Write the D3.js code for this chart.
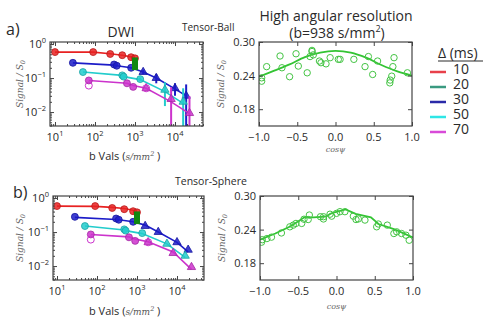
<!DOCTYPE html>
<html>
<head>
<meta charset="utf-8">
<script src="https://cdn.jsdelivr.net/npm/d3@7"></script>
<style>
  body { margin: 0; background: #fff; }
  svg { display: block; font-family: 'Open Sans', sans-serif; }
</style>
</head>
<body>
<svg id="chart" width="486" height="324"></svg>
<script>
// legend
const deltas = ['10', '20', '30', '50', '70'];

// DWI decay, one set of arrays per diffusion time
const bRed = [10, 90, 240, 480, 800, 1000];
const sigRed = [0.58, 0.58, 0.51, 0.47, 0.41, 0.38];
const fitRedA = [0.58, 0.58, 0.52, 0.47, 0.42, 0.38];
const fitRedB = [0.58, 0.57, 0.53, 0.49, 0.44, 0.40];
const errRed = [0, 0, 0, 0, 0, 0];

const bGreen = [1000, 1000, 1000];
const sigGreen = [0.33, 0.26, 0.21];

const bBlue = [28, 300, 350, 800, 1600, 3400, 10000, 19000];
const sigBlue = [0.28, 0.25, 0.23, 0.2, 0.15, 0.1, 0.05, 0.03];
const fitBlueA = [0.28, 0.24, 0.23, 0.2, 0.15, 0.1, 0.048, 0.03];
const fitBlueB = [0.27, 0.235, 0.23, 0.2, 0.16, 0.1, 0.05, 0.026];
const errBlue = [0, 0, 0, 0.01, 0.02, 0.03, 0.02, 0.035];

const bCyan = [50, 480, 520, 1350, 5600, 16000];
const sigCyan = [0.15, 0.12, 0.11, 0.093, 0.045, 0.02];
const fitCyanA = [0.15, 0.12, 0.11, 0.09, 0.04, 0.018];
const fitCyanB = [0.15, 0.115, 0.11, 0.09, 0.045, 0.018];
const errCyan = [0, 0, 0, 0.01, 0.03, 0.03];

const bMag = [70, 630, 900, 1900, 8000, 23000];
const sigMag = [0.085, 0.07, 0.055, 0.05, 0.024, 0.0093];
const fitMagA = [0.085, 0.07, 0.06, 0.05, 0.02, 0.009];
const fitMagB = [0.085, 0.072, 0.062, 0.052, 0.026, 0.008];
const errMag = [0, 0, 0, 0, 0.03, 0.02];
const ringMagB = [70, 1900];
const ringMagSig = [0.06, 0.05];

// angular data at b=938
const cosA = [-0.965, -0.965, -0.9, -0.725, -0.7, -0.6, -0.516, -0.486, -0.37, -0.333, -0.307, -0.307, -0.29,
  -0.21, -0.19, -0.124, -0.07, 0.037, 0.06, 0.24, 0.386, 0.43, 0.486, 0.55, 0.71, 0.715, 0.735, 0.75, 0.765, 0.94];
const sigAngA = [0.23, 0.236, 0.256, 0.275, 0.254, 0.238, 0.279, 0.257, 0.245, 0.274, 0.283, 0.285, 0.277,
  0.266, 0.263, 0.261, 0.272, 0.269, 0.269, 0.269, 0.256, 0.274, 0.242, 0.266, 0.227, 0.232, 0.239, 0.256, 0.272, 0.245];
const fitCosA = [-1, -0.8, -0.6, -0.4, -0.2, 0, 0.2, 0.4, 0.6, 0.8, 1];
const fitAngA = [0.238, 0.249, 0.26, 0.273, 0.281, 0.284, 0.281, 0.272, 0.259, 0.248, 0.24];

const cosB = [-0.98, -0.97, -0.91, -0.85, -0.72, -0.61, -0.565, -0.53, -0.455, -0.425, -0.37, -0.355, -0.21,
  -0.17, -0.17, -0.085, -0.063, 0.0, 0.046, 0.11, 0.22, 0.255, 0.285, 0.372, 0.525, 0.547, 0.664, 0.75, 0.787, 0.85, 0.908, 0.95];
const sigAngB = [0.2175, 0.222, 0.224, 0.2265, 0.234, 0.245, 0.248, 0.251, 0.251, 0.2585, 0.258, 0.266, 0.263,
  0.259, 0.263, 0.2675, 0.264, 0.269, 0.272, 0.272, 0.264, 0.258, 0.259, 0.257, 0.245, 0.25, 0.248, 0.233, 0.236, 0.233, 0.23, 0.221];
const fitCosB = [-1, -0.8, -0.6, -0.42, -0.3, -0.15, -0.05, 0.12, 0.25, 0.45, 0.55, 0.75, 0.9, 1];
const fitAngB = [0.222, 0.233, 0.246, 0.262, 0.262, 0.263, 0.27, 0.276, 0.268, 0.262, 0.25, 0.241, 0.232, 0.226];

const logTicks = [10, 100, 1000, 10000];
const logTickExp = ['1', '2', '3', '4'];
const yLogTicks = [1, 0.1, 0.01];
const yLogExp = ['0', '\u22121', '\u22122'];
const cosTicks = [-1, -0.5, 0, 0.5, 1];
const angYTicks = [0.18, 0.24, 0.30];

const svg = d3.select('#chart');
const frameColor = '#444';
const textColor = '#2a2a2a';

const dwiSeries = [
  { color: '#e82222', b: bRed, sig: sigRed, fitA: fitRedA, fitB: fitRedB, err: errRed },
  { color: '#1c1cc8', b: bBlue, sig: sigBlue, fitA: fitBlueA, fitB: fitBlueB, err: errBlue },
  { color: '#22cccc', b: bCyan, sig: sigCyan, fitA: fitCyanA, fitB: fitCyanB, err: errCyan },
  { color: '#cc33cc', b: bMag, sig: sigMag, fitA: fitMagA, fitB: fitMagB, err: errMag }
];

let clipId = 0;

function frame(g, box) {
  g.append('rect')
    .attr('x', box.x0).attr('y', box.y0)
    .attr('width', box.x1 - box.x0).attr('height', box.y1 - box.y0)
    .attr('fill', 'none').attr('stroke', frameColor).attr('stroke-width', 1.2);
}

function clip(g, box) {
  const id = 'clip' + (clipId++);
  g.append('clipPath').attr('id', id).append('rect')
    .attr('x', box.x0).attr('y', box.y0)
    .attr('width', box.x1 - box.x0).attr('height', box.y1 - box.y0);
  return g.append('g').attr('clip-path', `url(#${id})`);
}

// ticks on all four sides, pointing in
function insideTicks(g, box, x, y, xVals, yVals, size) {
  const sides = [
    [d3.axisBottom(x).tickValues(xVals), `translate(0,${box.y1})`],
    [d3.axisTop(x).tickValues(xVals), `translate(0,${box.y0})`],
    [d3.axisLeft(y).tickValues(yVals), `translate(${box.x0},0)`],
    [d3.axisRight(y).tickValues(yVals), `translate(${box.x1},0)`]
  ];
  sides.forEach(([axis, tr]) => {
    g.append('g').attr('transform', tr)
      .call(axis.tickSizeInner(-size).tickSizeOuter(0).tickFormat(''))
      .call(a => a.select('.domain').remove())
      .call(a => a.selectAll('line').attr('stroke', frameColor));
  });
}

function yLabel(g, cx, cy) {
  const t = g.append('text')
    .attr('transform', `translate(${cx},${cy}) rotate(-90)`)
    .attr('text-anchor', 'middle')
    .attr('font-family', 'DejaVu Serif, serif')
    .attr('font-style', 'italic')
    .attr('font-size', 9)
    .attr('fill', '#666');
  t.append('tspan').text('Signal / S');
  t.append('tspan').attr('font-size', 6.5).attr('dy', 2).text('0');
}

function logPanel(box, fitKey, showErr, labelY) {
  const g = svg.append('g');
  const x = d3.scaleLog().domain(box.xDom).range([box.x0, box.x1]);
  const y = d3.scaleLog().domain(box.yDom).range([box.y1, box.y0]);
  const inner = clip(g, box);

  const line = d3.line().x(d => x(d[0])).y(d => y(d[1]));

  // green points at b=1000
  inner.append('path')
    .datum(bGreen.map((b, i) => [b, sigGreen[i]]))
    .attr('d', line).attr('fill', 'none')
    .attr('stroke', '#118811').attr('stroke-width', 2);

  dwiSeries.forEach(s => {
    if (showErr) {
      inner.selectAll(null)
        .data(s.b.map((b, i) => [b, s.sig[i], s.err[i]]).filter(d => d[2] > 0))
        .enter().append('line')
        .attr('x1', d => x(d[0])).attr('x2', d => x(d[0]))
        .attr('y1', d => y(d[1] + d[2]))
        .attr('y2', d => d[1] - d[2] > 0 ? y(d[1] - d[2]) : box.y1 + 5)
        .attr('stroke', s.color).attr('stroke-width', 2);
    }
    inner.append('path')
      .datum(s.b.map((b, i) => [b, s[fitKey][i]]))
      .attr('d', line).attr('fill', 'none')
      .attr('stroke', s.color).attr('stroke-width', 1.6);

    inner.selectAll(null)
      .data(s.b.map((b, i) => [b, s.sig[i]]))
      .enter().append('path')
      .attr('transform', d => `translate(${x(d[0])},${y(d[1])})`)
      .attr('d', d => d3.symbol(d[0] > 1500 ? d3.symbolTriangle : d3.symbolCircle, d[0] > 1500 ? 30 : 38)())
      .attr('fill', s.color).attr('fill-opacity', 0.85)
      .attr('stroke', d3.color(s.color).darker(0.6)).attr('stroke-width', 0.8);
  });

  inner.selectAll(null)
    .data(bGreen.map((b, i) => [b, sigGreen[i]]))
    .enter().append('rect')
    .attr('x', d => x(d[0]) - 3).attr('y', d => y(d[1]) - 3)
    .attr('width', 6).attr('height', 6).attr('fill', '#118811');

  inner.selectAll(null)
    .data(ringMagB.map((b, i) => [b, ringMagSig[i]]))
    .enter().append('circle')
    .attr('cx', d => x(d[0])).attr('cy', d => y(d[1])).attr('r', 3.5)
    .attr('fill', 'none').attr('stroke', '#cc33cc').attr('stroke-width', 1);

  frame(g, box);
  // major and minor ticks
  const xMinor = [];
  for (let e = 0; e <= 4; e++) for (let m = 2; m <= 9; m++) {
    const v = m * Math.pow(10, e);
    if (v > box.xDom[0] && v < box.xDom[1]) xMinor.push(v);
  }
  const yMinor = [];
  for (let e = -3; e <= 0; e++) for (let m = 2; m <= 9; m++) {
    const v = m * Math.pow(10, e);
    if (v > box.yDom[0] && v < box.yDom[1]) yMinor.push(v);
  }
  insideTicks(g, box, x, y, logTicks, yLogTicks, 4);
  insideTicks(g, box, x, y, xMinor, yMinor, 2);

  // tick labels with superscripts
  logTicks.forEach((v, i) => {
    const t = g.append('text')
      .attr('x', x(v)).attr('y', box.y1 + 15)
      .attr('text-anchor', 'middle').attr('font-size', 11).attr('fill', textColor);
    t.append('tspan').text('10');
    t.append('tspan').attr('font-size', 7.5).attr('dy', -5).text(logTickExp[i]);
  });
  yLogTicks.forEach((v, i) => {
    const t = g.append('text')
      .attr('x', box.x0 - 4).attr('y', y(v) + 4)
      .attr('text-anchor', 'end').attr('font-size', 11).attr('fill', textColor);
    t.append('tspan').text('10');
    t.append('tspan').attr('font-size', 7.5).attr('dy', -5).text(yLogExp[i]);
  });

  yLabel(g, 23, (box.y0 + box.y1) / 2);

  const xl = g.append('text')
    .attr('x', 89).attr('y', labelY)
    .attr('font-size', 11).attr('fill', textColor);
  xl.append('tspan').text('b Vals (');
  xl.append('tspan').attr('font-family', 'DejaVu Serif, serif').attr('font-style', 'italic')
    .attr('font-size', 9).attr('fill', '#555').text('s/mm');
  xl.append('tspan').attr('font-family', 'DejaVu Serif, serif').attr('font-style', 'italic')
    .attr('font-size', 6.5).attr('fill', '#555').attr('dy', -4).text('2');
  xl.append('tspan').attr('dy', 4).text(' )');
}

function anglePanel(box, cosVals, sigVals, fitCos, fitVals, curve, labelY) {
  const g = svg.append('g');
  const x = d3.scaleLinear().domain([-1, 1]).range([box.x0, box.x1]);
  const y = d3.scaleLinear().domain([0.15, 0.30]).range([box.y1, box.y0]);
  const inner = clip(g, box);

  inner.append('path')
    .datum(fitCos.map((c, i) => [c, fitVals[i]]))
    .attr('d', d3.line().curve(curve).x(d => x(d[0])).y(d => y(d[1])))
    .attr('fill', 'none').attr('stroke', '#33c433').attr('stroke-width', 1.8);

  inner.selectAll(null)
    .data(cosVals.map((c, i) => [c, sigVals[i]]))
    .enter().append('circle')
    .attr('cx', d => x(d[0])).attr('cy', d => y(d[1])).attr('r', 3.2)
    .attr('fill', 'none').attr('stroke', '#44c444').attr('stroke-width', 1);

  frame(g, box);
  insideTicks(g, box, x, y, cosTicks, angYTicks, 4);

  cosTicks.forEach(v => {
    g.append('text')
      .attr('x', x(v)).attr('y', box.y1 + 15)
      .attr('text-anchor', 'middle').attr('font-size', 11).attr('fill', textColor)
      .text(d3.format('.1f')(v).replace('-', '\u2212'));
  });
  angYTicks.forEach(v => {
    g.append('text')
      .attr('x', box.x0 - 4).attr('y', y(v) + 4)
      .attr('text-anchor', 'end').attr('font-size', 11).attr('fill', textColor)
      .text(d3.format('.2f')(v));
  });

  yLabel(g, box.x0 - 35, (box.y0 + box.y1) / 2);

  g.append('text')
    .attr('x', (box.x0 + box.x1) / 2).attr('y', labelY)
    .attr('text-anchor', 'middle')
    .attr('font-family', 'DejaVu Serif, serif').attr('font-style', 'italic')
    .attr('font-size', 8).attr('fill', '#666')
    .text('cos\u03c8');
}

logPanel({ x0: 50, x1: 203, y0: 42, y1: 126, xDom: [Math.pow(10, 0.875), Math.pow(10, 4.7)], yDom: [Math.pow(10, -2.41), Math.pow(10, 0.06)] }, 'fitA', true, 160);
logPanel({ x0: 53, x1: 204, y0: 196, y1: 280, xDom: [Math.pow(10, 0.9), Math.pow(10, 4.675)], yDom: [Math.pow(10, -2.41), Math.pow(10, 0.06)] }, 'fitB', false, 315);
anglePanel({ x0: 259, x1: 412, y0: 42, y1: 126 }, cosA, sigAngA, fitCosA, fitAngA, d3.curveCatmullRom, 152);
anglePanel({ x0: 260, x1: 413, y0: 196, y1: 280 }, cosB, sigAngB, fitCosB, fitAngB, d3.curveLinear, 309);

// panel letters and titles
svg.append('text').attr('x', 6).attr('y', 35).attr('font-size', 16).attr('fill', textColor).text('a)');
svg.append('text').attr('x', 13).attr('y', 198).attr('font-size', 16).attr('fill', textColor).text('b)');
svg.append('text').attr('x', 121).attr('y', 37).attr('text-anchor', 'middle').attr('font-size', 14).attr('fill', textColor).text('DWI');
svg.append('text').attr('x', 182).attr('y', 31).attr('font-size', 10).attr('fill', textColor).text('Tensor-Ball');
svg.append('text').attr('x', 175).attr('y', 185).attr('font-size', 10.5).attr('fill', textColor).text('Tensor-Sphere');
svg.append('text').attr('x', 336).attr('y', 21).attr('text-anchor', 'middle').attr('font-size', 14).attr('fill', textColor).text('High angular resolution');
const sub = svg.append('text').attr('x', 337).attr('y', 38).attr('text-anchor', 'middle').attr('font-size', 14).attr('fill', textColor);
sub.append('tspan').text('(b=938 s/mm');
sub.append('tspan').attr('font-size', 9).attr('dy', -6).text('2');
sub.append('tspan').attr('dy', 6).text(')');

// legend
const legendColors = ['#e8404a', '#3a9a80', '#2a2aa8', '#2ee6e6', '#d84ad8'];
svg.append('text').attr('x', 438).attr('y', 58).attr('font-size', 14).attr('fill', textColor).text('\u0394 (ms)');
svg.append('line').attr('x1', 438).attr('x2', 483).attr('y1', 61).attr('y2', 61).attr('stroke', textColor).attr('stroke-width', 1);
const leg = svg.append('g').selectAll('g').data(deltas).enter().append('g')
  .attr('transform', (d, i) => `translate(0,${72 + 15 * i})`);
leg.append('line').attr('x1', 430).attr('x2', 446).attr('stroke', (d, i) => legendColors[i]).attr('stroke-width', 2.5);
leg.append('text').attr('x', 453).attr('y', 2).attr('font-size', 14).attr('fill', textColor).text(d => d);
</script>
</body>
</html>
